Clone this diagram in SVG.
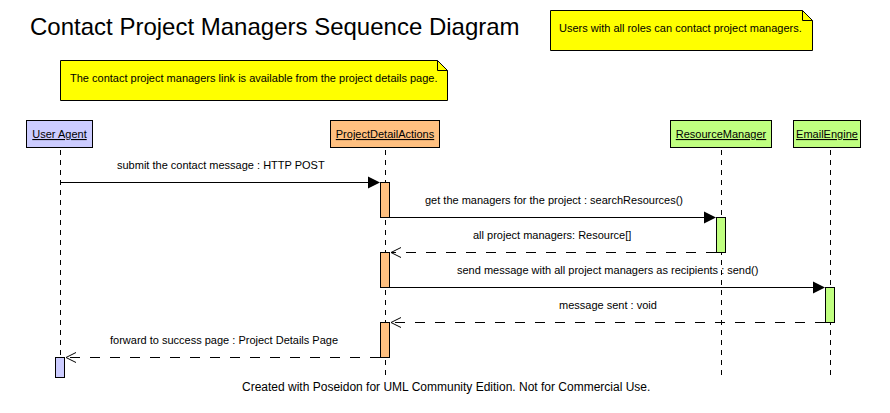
<svg xmlns="http://www.w3.org/2000/svg" width="890" height="413" viewBox="0 0 890 413">
  <style>
    text { font-family: "Liberation Sans", Arial, sans-serif; fill: #000; }
    .title { font-size: 24px; }
    .lbl { font-size: 11px; }
    .name { font-size: 11px; text-decoration: underline; text-anchor: middle; }
    .foot { font-size: 12px; }
    .note { fill: #ffff00; stroke: #000; stroke-width: 1; }
    .box { stroke: #000; stroke-width: 1; }
    .ua { fill: #ccccff; }
    .pda { fill: #ffc080; }
    .grn { fill: #c0ff80; }
    .life { stroke: #000; stroke-width: 1; stroke-dasharray: 5 5; fill: none; }
    .call { stroke: #000; stroke-width: 1; fill: none; }
    .ret { stroke: #000; stroke-width: 1; stroke-dasharray: 10 10; fill: none; }
    .open { stroke: #000; stroke-width: 1; fill: none; }
  </style>
  <rect width="890" height="413" fill="#fff"/>

  <text class="title" x="30" y="35">Contact Project Managers Sequence Diagram</text>

  <!-- notes -->
  <g id="note-roles">
    <path class="note" d="M550.5,10.5 H802.5 L812.5,20.5 V50.5 H550.5 Z"/>
    <path class="open" d="M802.5,10.5 V20.5 H812.5"/>
    <text class="lbl" x="559" y="32">Users with all roles can contact project managers.</text>
  </g>
  <g id="note-link">
    <path class="note" d="M60.5,60.5 H437.5 L447.5,70.5 V100.5 H60.5 Z"/>
    <path class="open" d="M437.5,60.5 V70.5 H447.5"/>
    <text class="lbl" x="70" y="82">The contact project managers link is available from the project details page.</text>
  </g>

  <!-- lifelines -->
  <g id="user-agent">
    <rect class="box ua" x="26.5" y="120.5" width="66" height="27"/>
    <text class="name" x="59.5" y="138">User Agent</text>
    <line class="life" x1="60.5" y1="150" x2="60.5" y2="357"/>
    <rect class="box ua" x="55.5" y="357.5" width="9" height="20"/>
  </g>
  <g id="project-detail-actions">
    <rect class="box pda" x="330.5" y="120.5" width="109" height="27"/>
    <text class="name" x="385" y="138">ProjectDetailActions</text>
    <line class="life" x1="385.5" y1="150" x2="385.5" y2="376"/>
    <rect class="box pda" x="380.5" y="182.5" width="9" height="35"/>
    <rect class="box pda" x="380.5" y="252.5" width="9" height="35"/>
    <rect class="box pda" x="380.5" y="322.5" width="9" height="35"/>
  </g>
  <g id="resource-manager">
    <rect class="box grn" x="670.5" y="120.5" width="101" height="27"/>
    <text class="name" x="721" y="138">ResourceManager</text>
    <line class="life" x1="721.5" y1="150" x2="721.5" y2="376"/>
    <rect class="box grn" x="716.5" y="217.5" width="9" height="35"/>
  </g>
  <g id="email-engine">
    <rect class="box grn" x="793.5" y="120.5" width="67" height="27"/>
    <text class="name" x="827" y="138">EmailEngine</text>
    <line class="life" x1="830.5" y1="150" x2="830.5" y2="376"/>
    <rect class="box grn" x="825.5" y="287.5" width="9" height="35"/>
  </g>

  <!-- messages -->
  <g id="connectors">
    <line class="call" x1="61" y1="182.5" x2="369" y2="182.5"/>
    <polygon points="380,182.5 368,176.5 368,188.5" fill="#000"/>
    <text class="lbl" x="117" y="169">submit the contact message : HTTP POST</text>

    <line class="call" x1="390" y1="217.5" x2="705" y2="217.5"/>
    <polygon points="716,217.5 704,211.5 704,223.5" fill="#000"/>
    <text class="lbl" x="425" y="204">get the managers for the project : searchResources()</text>

    <line class="ret" x1="716" y1="252.5" x2="391" y2="252.5"/>
    <polyline class="open" points="401,247.5 391,252.5 401,257.5"/>
    <text class="lbl" x="473" y="239">all project managers: Resource[]</text>

    <line class="call" x1="390" y1="287.5" x2="814" y2="287.5"/>
    <polygon points="825,287.5 813,281.5 813,293.5" fill="#000"/>
    <text class="lbl" x="457" y="274">send message with all project managers as recipients : send()</text>

    <line class="ret" x1="825" y1="322.5" x2="391" y2="322.5"/>
    <polyline class="open" points="401,317.5 391,322.5 401,327.5"/>
    <text class="lbl" x="559" y="309">message sent : void</text>

    <line class="ret" x1="380" y1="357.5" x2="66" y2="357.5"/>
    <polyline class="open" points="76,352.5 66,357.5 76,362.5"/>
    <text class="lbl" x="110" y="344">forward to success page : Project Details Page</text>
  </g>

  <text class="foot" x="242" y="391">Created with Poseidon for UML Community Edition. Not for Commercial Use.</text>
</svg>
